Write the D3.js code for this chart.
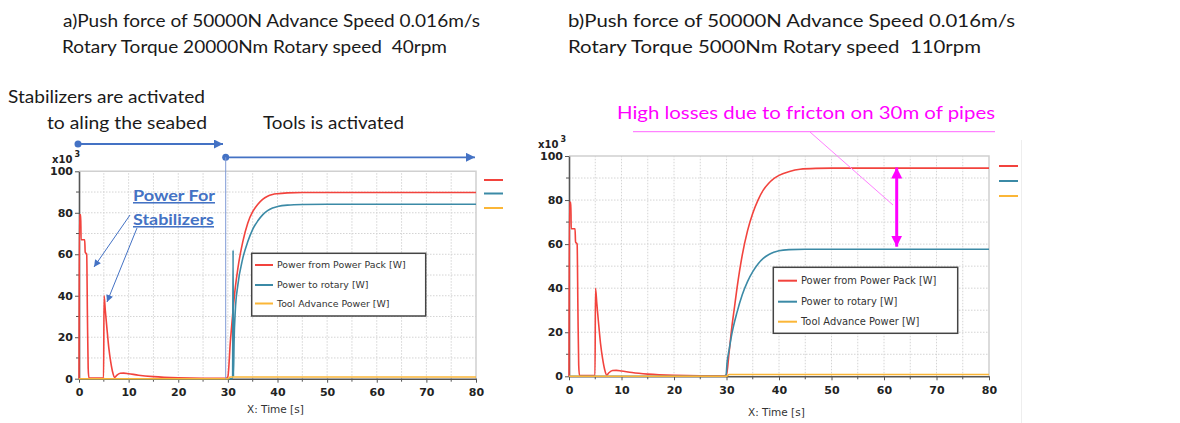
<!DOCTYPE html>
<html><head><meta charset="utf-8">
<script src="https://cdn.jsdelivr.net/npm/d3@7"></script>
<style>body{margin:0;background:#fff}svg{display:block}text{white-space:pre}</style>
</head><body>
<script>
// ---------------- data ----------------
const yTicks = [0, 20, 40, 60, 80, 100];
const xTicks = [0, 10, 20, 30, 40, 50, 60, 70, 80];
const legendLabels = ["Power from Power Pack [W]", "Power to rotary [W]", "Tool Advance Power [W]"];
const seriesColors = ["#f2433d", "#3b8aa6", "#fbb637"];

const titleA = ["a)Push force of 50000N Advance Speed 0.016m/s", "Rotary Torque 20000Nm Rotary speed  40rpm"];
const titleB = ["b)Push force of 50000N Advance Speed 0.016m/s", "Rotary Torque 5000Nm Rotary speed  110rpm"];

// chart a) (time [s], power x10^3 W)
const redA = [[0,0],[0.08,79],[0.35,79],[0.42,67],[1.15,67],[1.25,61],[1.55,60],[1.7,30],[1.85,5],[2.0,0.3],[4.95,0.3],[5.05,40],[5.3,33],[5.6,25],[6.0,15],[6.4,8],[6.8,3],[7.2,0.6],[7.6,1.6],[8.3,2.6],[9,2.7],[10,2.4],[12,1.7],[15,1.0],[20,0.4],[25,0.2],[29.6,0.2],[30,1],[30.5,18],[31,32],[31.5,44],[32,53],[33,66],[34,75],[35,80.5],[36,84],[37,86.5],[38,88],[39,88.8],[40,89.2],[42,89.6],[45,89.8],[50,89.8],[80,89.8]];
const blueA = [[0,0],[30.95,0],[31.05,62],[31.12,1],[31.25,18],[31.5,33],[32,45],[33,58],[34,66],[35,72],[36,76],[37,79],[38,81],[39,82.3],[40,83],[42,83.7],[45,84],[50,84.1],[80,84.1]];
const orangeA = [[0,0],[30,0],[30.5,0.8],[80,0.8]];

// chart b)
const redB = [[0,0],[0.08,79],[0.35,79],[0.42,67],[1.15,67],[1.25,61],[1.55,60],[1.7,30],[1.85,5],[2.0,0.3],[4.95,0.3],[5.05,40],[5.3,33],[5.6,25],[6.0,15],[6.4,8],[6.8,3],[7.2,0.6],[7.6,1.6],[8.3,2.6],[9,2.7],[10,2.4],[12,1.7],[15,1.0],[20,0.4],[25,0.2],[29.6,0.2],[30,0.8],[30.5,11],[31,22],[31.5,31],[32,40],[33,55],[34,66],[35,74],[36,80],[37,84.5],[38,87.5],[39,89.7],[40,91.2],[42,93],[44,94],[47,94.4],[50,94.5],[80,94.5]];
const blueB = [[0,0],[29.9,0],[30.1,6],[30.5,12],[31,19],[32,29],[33,37],[34,43],[35,47.5],[36,51],[37,53.5],[38,55.2],[39,56.3],[40,57],[42,57.5],[45,57.7],[80,57.7]];
const orangeB = [[0,0],[30,0],[30.5,0.8],[80,0.8]];

// ---------------- drawing ----------------
const W = 1180, H = 423;
const svg = d3.select("body").append("svg").attr("width", W).attr("height", H);
svg.append("rect").attr("width", W).attr("height", H).attr("fill", "#fff");

const defs = svg.append("defs");
function marker(id, color, w, h) {
  defs.append("marker").attr("id", id).attr("viewBox", "0 0 10 10").attr("refX", 10).attr("refY", 5)
    .attr("markerWidth", w).attr("markerHeight", h).attr("markerUnits", "userSpaceOnUse")
    .attr("orient", "auto-start-reverse")
    .append("path").attr("d", "M0,0 L10,5 L0,10 Z").attr("fill", color);
}
marker("arrBlue", "#4472c4", 10, 9);
marker("arrBlueS", "#4472c4", 8, 7);
marker("arrMag", "#ff00ff", 11, 11);

function chart(cfg) {
  const x = d3.scaleLinear().domain([0, 80]).range([cfg.x0, cfg.x1]);
  const y = d3.scaleLinear().domain([0, 100]).range([cfg.y0, cfg.y1]);
  const g = svg.append("g");
  // grid
  const gx = d3.range(5, 80, 5), gy = d3.range(10, 100, 10);
  g.selectAll(".gv").data(gx).join("line").attr("x1", d => x(d)).attr("x2", d => x(d))
    .attr("y1", y(0)).attr("y2", y(100)).attr("stroke", "#d4d4d4").attr("stroke-dasharray", "1.5,1.5");
  g.selectAll(".gh").data(gy).join("line").attr("y1", d => y(d)).attr("y2", d => y(d))
    .attr("x1", x(0)).attr("x2", x(80)).attr("stroke", "#d4d4d4").attr("stroke-dasharray", "1.5,1.5");
  // frame
  g.append("path").attr("d", `M${x(0)},${y(100)}H${x(80)}V${y(0)}`).attr("fill", "none").attr("stroke", "#d0d0d0").attr("stroke-width", 1.5);
  // minor ticks
  g.selectAll(".mty").data(d3.range(10, 100, 20)).join("line").attr("x1", x(0) - 3).attr("x2", x(0))
    .attr("y1", d => y(d)).attr("y2", d => y(d)).attr("stroke", "#555");
  g.selectAll(".mtx").data(d3.range(5, 80, 10)).join("line").attr("y1", y(0)).attr("y2", y(0) + 3)
    .attr("x1", d => x(d)).attr("x2", d => x(d)).attr("stroke", "#555");
  // axes
  const ax = g.append("g").attr("transform", `translate(0,${y(0)})`)
    .call(d3.axisBottom(x).tickValues(xTicks).tickSizeInner(4).tickSizeOuter(0).tickPadding(6).tickFormat(d3.format("d")));
  const ay = g.append("g").attr("transform", `translate(${x(0)},0)`)
    .call(d3.axisLeft(y).tickValues(yTicks).tickSizeInner(4).tickSizeOuter(0).tickPadding(2).tickFormat(d3.format("d")));
  [ax, ay].forEach(a => {
    a.select(".domain").attr("stroke", "#555").attr("stroke-width", 1.6);
    a.selectAll(".tick line").attr("stroke", "#555");
    a.selectAll("text").attr("font-family", "DejaVu Sans").attr("font-weight", "bold").attr("font-size", 11).attr("fill", "#222");
  });
  // series
  const line = d3.line().x(d => x(d[0])).y(d => y(d[1])).curve(d3.curveMonotoneX);
  cfg.series.forEach((s, i) => {
    g.append("path").datum(s).attr("d", line).attr("fill", "none").attr("stroke", seriesColors[i]).attr("stroke-width", 1.6);
  });
  // axis labels
  const xl = g.append("text").attr("x", cfg.xlab[0]).attr("y", cfg.xlab[1]).attr("font-family", "DejaVu Sans").attr("font-size", 10.5).attr("fill", "#333");
  xl.text("X: Time [s]");
  const ex = g.append("text").attr("x", cfg.exp[0]).attr("y", cfg.exp[1]).attr("font-family", "DejaVu Sans").attr("font-weight", "bold").attr("font-size", 10).attr("fill", "#222");
  ex.append("tspan").text("x10");
  ex.append("tspan").attr("dx", 2).attr("dy", -6).attr("font-size", 8).text("3");
  // outside legend marks
  g.selectAll(".om").data(cfg.outMarks).join("line").attr("x1", cfg.outX[0]).attr("x2", cfg.outX[1])
    .attr("y1", d => d).attr("y2", d => d).attr("stroke", (d, i) => seriesColors[i]).attr("stroke-width", 2);
  // legend
  const L = cfg.legend;
  g.append("rect").attr("x", L.x).attr("y", L.y).attr("width", L.w).attr("height", L.h)
    .attr("fill", "#fff").attr("stroke", "#444").attr("stroke-width", 1.5);
  legendLabels.forEach((lab, i) => {
    const yy = L.rows[i];
    g.append("line").attr("x1", L.sx[0]).attr("x2", L.sx[1]).attr("y1", yy).attr("y2", yy)
      .attr("stroke", seriesColors[i]).attr("stroke-width", 2);
    g.append("text").attr("x", L.tx).attr("y", yy).attr("dy", "0.35em").attr("font-family", "DejaVu Sans")
      .attr("font-size", L.fs).attr("fill", "#333").text(lab);
  });
  return {x, y};
}

const A = chart({x0: 79, x1: 476, y0: 378.7, y1: 171.3, series: [redA, blueA, orangeA],
  xlab: [247, 413], exp: [52, 163], outX: [484, 503], outMarks: [180, 193.5, 208],
  legend: {x: 251.7, y: 253.3, w: 174, h: 62.7, sx: [255, 273], tx: 277, rows: [265, 285, 303.5], fs: 9.4}});
const B = chart({x0: 569, x1: 989, y0: 376.3, y1: 156, series: [redB, blueB, orangeB],
  xlab: [748, 416], exp: [538, 148], outX: [999, 1018], outMarks: [166, 181, 196],
  legend: {x: 773.3, y: 267.3, w: 184.4, h: 66, sx: [778, 797], tx: 801, rows: [280.7, 301.7, 321.7], fs: 9.9}});

// faint image border on the right chart
svg.append("line").attr("x1", 1021.5).attr("x2", 1021.5).attr("y1", 140).attr("y2", 423).attr("stroke", "#eee");

// ---------------- texts ----------------
function txt(s, x, y, len, opts = {}) {
  const t = svg.append("text").attr("x", x).attr("y", y).attr("font-family", opts.ff || "Lato")
    .attr("font-size", opts.fs || 18).attr("fill", opts.fill || "#1a1a1a").text(s);
  if (len) t.attr("textLength", len).attr("lengthAdjust", "spacingAndGlyphs");
  if (opts.fw) t.attr("font-weight", opts.fw);
  if (opts.td) t.attr("text-decoration", opts.td);
  return t;
}
txt(titleA[0], 63, 27, 417);
txt(titleA[1], 62, 53, 385);
txt(titleB[0], 568, 27, 447);
txt(titleB[1], 568, 53, 413);
txt("Stabilizers are activated", 8, 103, 197);
txt("to aling the seabed", 47, 129, 160);
txt("Tools is activated", 263, 129, 141);
txt("High losses due to fricton on 30m of pipes", 617, 119, 378, {fill: "#ff00ff"});
txt("Power For", 133, 201, 82, {fill: "#4472c4", fs: 15.5, fw: "bold", td: "underline"});
txt("Stabilizers", 133, 225, 81, {fill: "#4472c4", fs: 15.5, fw: "bold", td: "underline"});

// ---------------- annotations ----------------
const blue = "#4472c4";
svg.append("circle").attr("cx", 78).attr("cy", 144).attr("r", 3.5).attr("fill", blue);
svg.append("line").attr("x1", 78).attr("y1", 144).attr("x2", 223).attr("y2", 144).attr("stroke", blue).attr("stroke-width", 1.8).attr("marker-end", "url(#arrBlue)");
svg.append("circle").attr("cx", 225.7).attr("cy", 157.3).attr("r", 3.5).attr("fill", blue);
svg.append("line").attr("x1", 225.7).attr("y1", 157.3).attr("x2", 475).attr("y2", 157.3).attr("stroke", blue).attr("stroke-width", 1.8).attr("marker-end", "url(#arrBlue)");
svg.append("line").attr("x1", 225.7).attr("y1", 157.3).attr("x2", 225.7).attr("y2", 378.7).attr("stroke", "#7f9bd6").attr("stroke-width", 1);
svg.append("line").attr("x1", 130).attr("y1", 215).attr("x2", 94).attr("y2", 267).attr("stroke", blue).attr("stroke-width", 1).attr("marker-end", "url(#arrBlueS)");
svg.append("line").attr("x1", 137).attr("y1", 228).attr("x2", 107).attr("y2", 302).attr("stroke", blue).attr("stroke-width", 1).attr("marker-end", "url(#arrBlueS)");

svg.append("line").attr("x1", 633).attr("y1", 131.7).attr("x2", 995).attr("y2", 131.7).attr("stroke", "#ff66ff").attr("stroke-width", 1);
svg.append("line").attr("x1", 810).attr("y1", 132).attr("x2", 893).attr("y2", 205).attr("stroke", "#ff80ff").attr("stroke-width", 1);
svg.append("line").attr("x1", 896.7).attr("y1", 167.5).attr("x2", 896.7).attr("y2", 246.7).attr("stroke", "#ff00ff").attr("stroke-width", 3)
  .attr("marker-start", "url(#arrMag)").attr("marker-end", "url(#arrMag)");
</script>
</body></html>
